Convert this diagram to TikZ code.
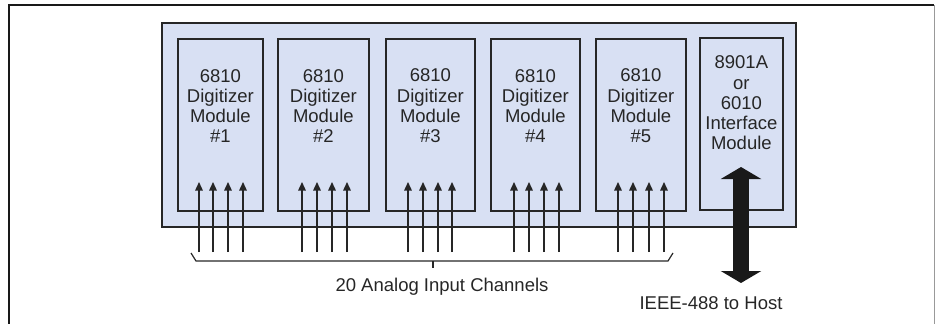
\documentclass[tikz,border=0pt]{standalone}
\usepackage{fontspec}
\setmainfont{Liberation Sans}
\usetikzlibrary{arrows.meta}
\definecolor{chassis}{RGB}{216,224,243}
\begin{document}
\begin{tikzpicture}[x=1pt,y=-1pt,
  modbox/.style={draw=black!85,line width=1.7pt,fill=chassis,rectangle,inner sep=0pt,anchor=north west},
  modtext/.style={align=center,font=\fontsize{18.5}{20.3}\selectfont,inner sep=0pt,text=black!85},
  lbl/.style={font=\fontsize{18.5}{20.3}\selectfont,inner sep=0pt,text=black!85},
  chan/.style={line width=1.4pt,black!85,-{Triangle[width=7.5pt,length=8.5pt]}},
  bus/.style={line width=16pt,black!90,{Triangle[width=40pt,length=12pt]}-{Triangle[width=40pt,length=12pt]}}]
\useasboundingbox (0,0) rectangle (935,324);
% outer frame
\draw[line width=2.2pt,black!90] (9,324) -- (9,5) -- (934,5);
\draw[line width=0.6pt,black!40] (934,5) -- (934,324);
% chassis
\node[modbox,minimum width=634pt,minimum height=204pt] (chassis) at (161,22) {};
% modules
\foreach \i/\l/\w in {1/177/85,2/277/91,3/385/89,4/490/89,5/595/90}{
  \node[modbox,minimum width=\w pt,minimum height=172pt] (m\i) at (\l,38) {};
  \node[modtext] (t\i) at ([yshift=-68pt]m\i.north) {6810\\Digitizer\\Module\\\#\i};
}
\node[modbox,minimum width=83pt,minimum height=172pt] (m6) at (699,37) {};
\node[modtext] (t6) at ([yshift=-66pt]m6.north) {8901A\\or\\6010\\Interface\\Module};
% channel arrows
\foreach \x [count=\k] in {199,213,228,243,302,317,332,347,408,423,438,452,514,529,544,559,618,633,649,664}{
  \coordinate (cb\k) at (\x,252);
  \coordinate (ct\k) at (\x,182);
  \draw[chan] (cb\k) -- (ct\k);
}
% brace
\coordinate (bl) at (191,253);
\coordinate (blc) at (196,261);
\coordinate (brc) at (668,261);
\coordinate (br) at (673,253);
\coordinate (bm) at (433,261);
\coordinate (bmt) at (433,268);
\draw[line width=1.2pt,black!85] (bl) -- (blc) -- (brc) -- (br);
\draw[line width=1.2pt,black!85] (bm) -- (bmt);
\node[lbl] (anlbl) at (442,287) {20 Analog Input Channels};
% IEEE bus
\coordinate (bustop) at (741,167);
\coordinate (busbot) at (741,283);
\draw[bus] (busbot) -- (bustop);
\node[lbl] (buslbl) at (711,303) {IEEE-488 to Host};
\end{tikzpicture}
\end{document}
